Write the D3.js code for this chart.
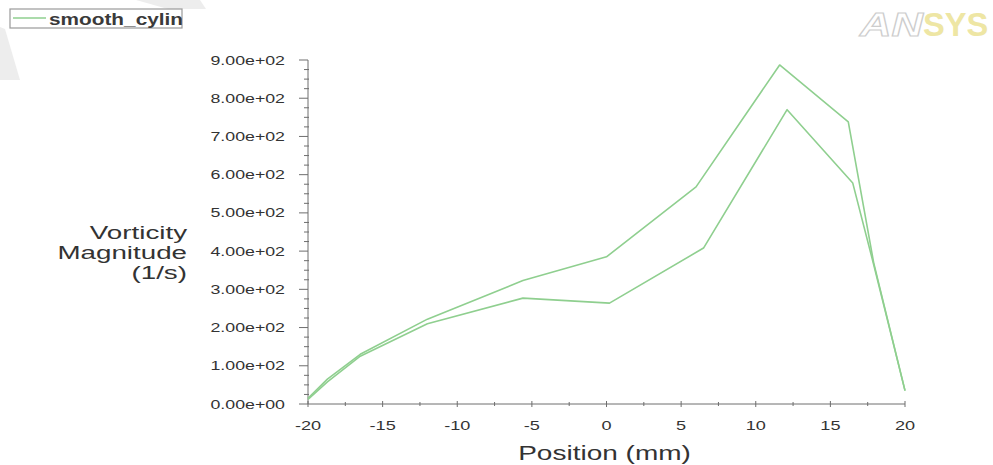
<!DOCTYPE html>
<html>
<head>
<meta charset="utf-8">
<script src="https://cdn.jsdelivr.net/npm/d3@7/dist/d3.min.js"></script>
<style>
  html, body { margin: 0; padding: 0; background: #ffffff; }
  svg { display: block; font-family: "Liberation Sans", Arial, sans-serif; }
</style>
</head>
<body>
<svg id="chart" width="993" height="465"></svg>
<script>
// Vorticity magnitude along a line through the smooth cylinder case
const seriesName = "smooth_cylinder";

const outerPos = [-20, -18.7, -16.5, -12, -5.6, 0, 6, 11.6, 16.2, 17.9, 20];
const outerVort = [15, 65, 130, 222, 323, 385, 568, 887, 738, 370, 35];

const innerPos = [-20, -18.7, -16.5, -12, -5.6, 0.2, 6.5, 12.1, 16.5, 17.9, 20];
const innerVort = [12, 58, 125, 210, 277, 264, 408, 770, 578, 365, 35];

const xTickValues = [-20, -15, -10, -5, 0, 5, 10, 15, 20];
const xTickLabels = ["-20", "-15", "-10", "-5", "0", "5", "10", "15", "20"];
const yTickValues = [0, 100, 200, 300, 400, 500, 600, 700, 800, 900];
const yTickLabels = ["0.00e+00", "1.00e+02", "2.00e+02", "3.00e+02", "4.00e+02",
                     "5.00e+02", "6.00e+02", "7.00e+02", "8.00e+02", "9.00e+02"];

const xTitle = "Position (mm)";
const yTitleLines = ["Vorticity", "Magnitude", "(1/s)"];

const svg = d3.select("#chart");
const x = d3.scaleLinear().domain([-20, 20]).range([308, 905]);
const y = d3.scaleLinear().domain([0, 900]).range([404, 60]);

const axisColor = "#6e6e6e";
const textColor = "#333";
const lineColor = "#8fcf8f";
const stretch = 1.42;

// faint background bands
const bands = svg.append("g").attr("fill", "#ededed");
bands.append("polygon").attr("points", "136,0 200,0 206,9 168,9");
bands.append("polygon").attr("points", "0,27 5,29 20,80 0,80");

// logo, top right
const logo = svg.append("g").attr("font-size", 34).attr("font-weight", "bold");
logo.append("text").attr("transform", "translate(860,36) scale(1.28,1)")
  .attr("font-style", "italic").text("AN")
  .attr("fill", "#ffffff").attr("stroke", "#cdcdcd").attr("stroke-width", 1.1);
logo.append("text").attr("transform", "translate(923,36) scale(0.96,1)")
  .text("SYS").attr("fill", "#eee6a4");

// legend
const legend = svg.append("g");
legend.append("clipPath").attr("id", "legclip")
  .append("rect").attr("x", 10).attr("y", 9).attr("width", 172).attr("height", 19);
legend.append("rect").attr("x", 10).attr("y", 9).attr("width", 172).attr("height", 19)
  .attr("fill", "#fff").attr("stroke", "#9a9a9a").attr("stroke-width", 1.2);
legend.append("line").attr("x1", 13).attr("x2", 46).attr("y1", 18).attr("y2", 18)
  .attr("stroke", lineColor).attr("stroke-width", 1.5);
legend.append("g").attr("clip-path", "url(#legclip)")
  .append("text")
  .attr("transform", "translate(49,25) scale(1.3,1)")
  .attr("font-size", 16).attr("font-weight", "bold").attr("fill", "#3a3a3a")
  .text(seriesName);

// axes
const axes = svg.append("g").attr("stroke", axisColor).attr("stroke-width", 1);
axes.append("line").attr("x1", x(-20)).attr("x2", x(-20)).attr("y1", y(0)).attr("y2", y(900));
axes.append("line").attr("x1", x(-20)).attr("x2", x(20)).attr("y1", y(0)).attr("y2", y(0));

// y ticks (major + minor every 25)
yTickValues.forEach(v => {
  axes.append("line").attr("x1", x(-20) - 9).attr("x2", x(-20))
    .attr("y1", y(v)).attr("y2", y(v));
});
d3.range(0, 900, 25).filter(v => v % 100 !== 0).forEach(v => {
  axes.append("line").attr("x1", x(-20) - 4).attr("x2", x(-20) + 1)
    .attr("y1", y(v)).attr("y2", y(v));
});
// x ticks (major + minor every 2.5)
xTickValues.forEach(v => {
  axes.append("line").attr("x1", x(v)).attr("x2", x(v))
    .attr("y1", y(0) - 3).attr("y2", y(0) + 3);
});
d3.range(-17.5, 20, 5).forEach(v => {
  axes.append("line").attr("x1", x(v)).attr("x2", x(v))
    .attr("y1", y(0) - 2).attr("y2", y(0) + 2);
});

// tick labels
const labels = svg.append("g").attr("fill", textColor).attr("font-size", 12.5);
yTickValues.forEach((v, i) => {
  labels.append("text")
    .attr("transform", `translate(285,${y(v) + 4.5}) scale(${stretch},1)`)
    .attr("text-anchor", "end")
    .text(yTickLabels[i]);
});
xTickValues.forEach((v, i) => {
  labels.append("text")
    .attr("transform", `translate(${x(v)},430) scale(1.45,1)`)
    .attr("text-anchor", "middle")
    .text(xTickLabels[i]);
});

// axis titles
svg.append("text")
  .attr("transform", "translate(604.5,460) scale(1.4,1)")
  .attr("text-anchor", "middle").attr("font-size", 20).attr("fill", textColor)
  .text(xTitle);
const yBase = [239, 259, 279];
yTitleLines.forEach((t, i) => {
  svg.append("text")
    .attr("transform", `translate(187,${yBase[i]}) scale(1.5,1)`)
    .attr("text-anchor", "end").attr("font-size", 18.5).attr("fill", textColor)
    .text(t);
});

// series curves
const line = d3.line().x(d => x(d[0])).y(d => y(d[1]));
const curves = [d3.zip(outerPos, outerVort), d3.zip(innerPos, innerVort)];
svg.append("g").selectAll("path").data(curves).join("path")
  .attr("d", line)
  .attr("fill", "none")
  .attr("stroke", lineColor)
  .attr("stroke-width", 1.6)
  .attr("stroke-linejoin", "round");
</script>
</body>
</html>
